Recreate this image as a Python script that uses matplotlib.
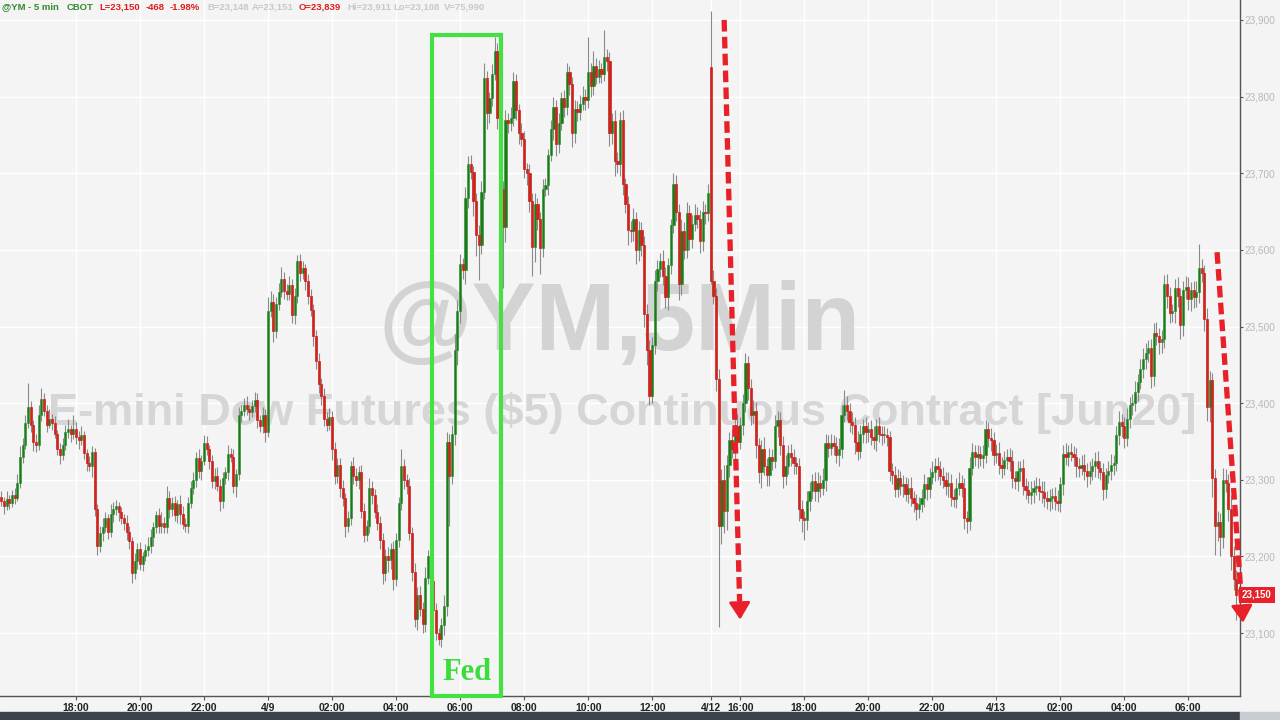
import numpy as np
import matplotlib.pyplot as plt
import matplotlib.transforms as mtransforms
from matplotlib.patches import Rectangle

# @YM 5-min closes, 24 bars (2 hours) per row
closes = [
    23272, 23266, 23275, 23270, 23280, 23276, 23296, 23330, 23345, 23374, 23395, 23372,
    23350, 23345, 23385, 23405, 23390, 23372, 23380, 23374, 23360, 23340, 23333, 23345,
    23362, 23366, 23360, 23366, 23356, 23352, 23358, 23335, 23322, 23318, 23336, 23262,
    23214, 23230, 23238, 23250, 23232, 23255, 23262, 23266, 23258, 23250, 23244, 23232,
    23220, 23178, 23194, 23210, 23190, 23200, 23208, 23214, 23226, 23238, 23254, 23240,
    23244, 23238, 23276, 23262, 23270, 23254, 23268, 23256, 23242, 23240, 23270, 23290,
    23300, 23328, 23312, 23325, 23348, 23340, 23324, 23298, 23305, 23292, 23272, 23302,
    23310, 23334, 23330, 23292, 23308, 23385, 23390, 23398, 23392, 23388, 23396, 23404,
    23378, 23370, 23385, 23362, 23520, 23532, 23494, 23530, 23545, 23562, 23546, 23543,
    23554, 23515, 23540, 23586, 23570, 23576, 23560, 23540, 23522, 23488, 23455, 23425,
    23410, 23380, 23372, 23382, 23340, 23305, 23320, 23290, 23276, 23240, 23250, 23318,
    23305, 23300, 23310, 23260, 23228, 23240, 23290, 23280, 23258, 23244, 23222, 23178,
    23200, 23196, 23210, 23170, 23222, 23270, 23318, 23300, 23292, 23230, 23180, 23118,
    23150, 23132, 23112, 23172, 23200, 23168, 23130, 23100, 23092, 23110, 23136, 23350,
    23305, 23360, 23470, 23520, 23582, 23574, 23668, 23712, 23702, 23664, 23620, 23606,
    23676, 23824, 23778, 23798, 23830, 23860, 23772, 23680, 23630, 23770, 23765, 23772,
    23820, 23782, 23752, 23745, 23706, 23700, 23664, 23604, 23660, 23640, 23603, 23680,
    23684, 23724, 23758, 23786, 23738, 23766, 23798, 23786, 23832, 23816, 23752, 23784,
    23780, 23790, 23800, 23795, 23832, 23814, 23840, 23826, 23836, 23830, 23852, 23846,
    23752, 23768, 23716, 23712, 23770, 23686, 23660, 23626, 23624, 23640, 23600, 23626,
    23606, 23516, 23470, 23410, 23476, 23560, 23575, 23586, 23566, 23538, 23580, 23632,
    23686, 23650, 23555, 23624, 23600, 23648, 23614, 23634, 23646, 23640, 23612, 23650,
    23648, 23674, 23560, 23540, 23432, 23240, 23300, 23260, 23320, 23352, 23340, 23370,
    23350, 23372, 23400, 23452, 23420, 23385, 23390, 23345, 23310, 23340, 23318, 23306,
    23330, 23325, 23370, 23378, 23345, 23305, 23318, 23335, 23330, 23322, 23318, 23262,
    23250, 23248, 23272, 23285, 23298, 23285, 23296, 23290, 23300, 23348, 23342, 23348,
    23344, 23332, 23340, 23385, 23398, 23390, 23376, 23372, 23350, 23338, 23360, 23370,
    23362, 23366, 23356, 23352, 23370, 23360, 23358, 23358, 23356, 23312, 23306, 23288,
    23302, 23292, 23294, 23282, 23290, 23276, 23270, 23262, 23268, 23276, 23294, 23288,
    23304, 23310, 23318, 23314, 23305, 23300, 23292, 23296, 23278, 23275, 23290, 23296,
    23290, 23250, 23246, 23316, 23336, 23330, 23334, 23328, 23332, 23366, 23355, 23352,
    23332, 23335, 23320, 23316, 23326, 23330, 23325, 23302, 23298, 23312, 23315, 23292,
    23287, 23280, 23284, 23290, 23292, 23286, 23284, 23276, 23272, 23276, 23279, 23273,
    23270, 23294, 23334, 23330, 23336, 23334, 23330, 23318, 23316, 23320, 23312, 23305,
    23312, 23318, 23324, 23315, 23310, 23288, 23306, 23312, 23320, 23322, 23358, 23376,
    23370, 23354, 23380, 23398, 23400, 23415, 23428, 23445, 23458, 23466, 23472, 23436,
    23492, 23488, 23480, 23484, 23555, 23540, 23518, 23520, 23550, 23540, 23502, 23548,
    23552, 23536, 23548, 23538, 23545, 23576, 23570, 23510, 23395, 23430, 23302, 23240,
    23245, 23225, 23300, 23296, 23262, 23200, 23170, 23150,
]

# wick length above / below the body, in index points
up_wick = [
    8, 6, 10, 5, 7, 9, 12, 14, 9, 10, 31, 8, 6, 10, 12, 15, 8, 7, 12, 6, 9, 5, 8, 10,
    9, 14, 6, 18, 10, 8, 12, 6, 5, 9, 8, 6, 7, 10, 12, 8, 6, 14, 9, 8, 5, 7, 6, 10,
    8, 6, 10, 7, 9, 6, 8, 12, 10, 7, 6, 9, 14, 8, 16, 10, 8, 9, 6, 12, 10, 8, 7, 9,
    10, 8, 12, 7, 10, 9, 6, 8, 10, 12, 9, 8, 7, 12, 8, 10, 6, 10, 8, 9, 12, 6, 8, 11,
    9, 6, 10, 8, 18, 14, 10, 8, 12, 16, 9, 10, 12, 8, 10, 7, 8, 10, 6, 8, 9, 7, 8, 10,
    8, 10, 9, 12, 8, 10, 9, 8, 10, 7, 9, 6, 12, 10, 8, 9, 10, 8, 12, 9, 8, 10, 9, 8,
    10, 12, 8, 10, 9, 8, 22, 9, 8, 10, 9, 12, 10, 12, 8, 14, 9, 10, 8, 9, 7, 10, 14, 12,
    10, 12, 20, 15, 12, 8, 14, 10, 12, 8, 10, 12, 14, 20, 10, 8, 12, 18, 10, 8, 10, 12, 8, 14,
    12, 10, 8, 14, 10, 8, 12, 10, 14, 8, 10, 12, 10, 8, 12, 14, 10, 12, 8, 10, 12, 8, 10, 12,
    10, 12, 14, 10, 46, 12, 20, 10, 12, 8, 35, 10, 12, 10, 14, 12, 10, 12, 8, 10, 12, 14, 10, 12,
    10, 12, 14, 12, 10, 14, 12, 10, 14, 12, 10, 8, 14, 12, 10, 16, 12, 14, 10, 12, 14, 10, 12, 14,
    10, 12, 72, 14, 10, 12, 14, 20, 12, 10, 14, 12, 16, 10, 12, 14, 10, 12, 14, 12, 10, 12, 16, 10,
    12, 10, 14, 12, 10, 12, 14, 10, 12, 10, 8, 10, 12, 10, 14, 12, 10, 12, 14, 10, 16, 12, 10, 12,
    10, 12, 14, 12, 19, 12, 10, 12, 10, 14, 12, 10, 12, 10, 12, 14, 10, 12, 10, 12, 10, 8, 10, 12,
    12, 10, 12, 10, 12, 14, 10, 12, 10, 12, 14, 10, 12, 14, 10, 12, 10, 12, 10, 14, 12, 10, 12, 14,
    10, 12, 10, 14, 12, 10, 12, 10, 14, 12, 10, 12, 10, 12, 14, 10, 12, 10, 12, 14, 10, 12, 10, 12,
    10, 12, 14, 10, 12, 10, 12, 14, 10, 12, 10, 12, 14, 10, 12, 14, 10, 12, 10, 12, 10, 12, 14, 10,
    12, 10, 12, 14, 10, 12, 10, 12, 14, 10, 12, 14, 10, 12, 14, 10, 12, 14, 10, 12, 14, 12, 10, 12,
    12, 14, 10, 12, 12, 14, 12, 10, 12, 14, 10, 12, 14, 12, 10, 12, 14, 32, 12, 10, 14, 12, 10, 12,
    14, 12, 16, 14, 12, 18, 14, 12,
]
down_wick = [
    6, 10, 5, 8, 6, 7, 4, 6, 8, 5, 7, 10, 12, 9, 6, 8, 7, 10, 5, 9, 6, 8, 12, 7,
    6, 8, 10, 7, 9, 12, 6, 8, 10, 6, 14, 9, 12, 8, 10, 6, 9, 7, 10, 8, 12, 7, 9, 10,
    10, 12, 8, 10, 7, 9, 6, 8, 10, 12, 8, 9, 10, 7, 8, 12, 9, 8, 10, 14, 6, 8, 10, 7,
    8, 9, 10, 12, 6, 8, 10, 8, 10, 6, 12, 9, 8, 10, 7, 9, 14, 8, 9, 7, 8, 10, 6, 8,
    10, 8, 9, 12, 6, 8, 14, 9, 8, 7, 10, 9, 8, 10, 12, 9, 10, 8, 12, 10, 8, 14, 10, 12,
    12, 10, 8, 7, 14, 10, 9, 12, 10, 14, 8, 9, 10, 8, 12, 10, 9, 8, 10, 12, 8, 10, 12, 14,
    10, 16, 12, 14, 8, 10, 9, 12, 10, 9, 12, 10, 14, 10, 12, 10, 8, 12, 10, 9, 8, 10, 12, 14,
    65, 10, 14, 20, 16, 12, 18, 14, 10, 20, 28, 45, 12, 10, 20, 12, 10, 8, 14, 30, 80, 20, 12, 10,
    10, 12, 14, 10, 12, 16, 14, 38, 20, 14, 34, 12, 10, 12, 8, 14, 16, 12, 10, 12, 10, 14, 18, 12,
    12, 10, 8, 12, 10, 14, 12, 10, 8, 12, 10, 12, 16, 14, 20, 12, 16, 14, 12, 20, 14, 12, 18, 14,
    14, 16, 20, 12, 10, 12, 14, 10, 12, 14, 16, 12, 10, 12, 20, 14, 12, 10, 14, 12, 10, 12, 16, 14,
    14, 10, 5, 10, 16, 132, 24, 30, 26, 16, 12, 14, 12, 10, 14, 12, 16, 14, 12, 16, 14, 20, 12, 14,
    14, 12, 10, 14, 12, 16, 12, 10, 12, 14, 10, 16, 18, 26, 14, 12, 10, 12, 14, 12, 10, 14, 12, 10,
    12, 10, 14, 12, 10, 12, 14, 12, 16, 12, 10, 12, 14, 12, 10, 12, 14, 10, 12, 10, 12, 14, 12, 10,
    10, 12, 14, 10, 12, 10, 12, 14, 12, 10, 12, 14, 12, 10, 12, 14, 12, 10, 12, 14, 12, 10, 12, 10,
    12, 14, 16, 12, 10, 12, 14, 10, 12, 10, 12, 14, 12, 10, 12, 14, 10, 12, 14, 12, 10, 12, 14, 12,
    12, 10, 12, 14, 10, 12, 14, 12, 10, 12, 14, 12, 10, 12, 14, 10, 12, 10, 12, 14, 12, 10, 12, 14,
    10, 12, 14, 12, 10, 14, 12, 10, 12, 14, 10, 12, 14, 12, 10, 12, 14, 10, 12, 10, 12, 14, 12, 16,
    14, 12, 16, 14, 12, 16, 14, 12, 16, 14, 18, 14, 12, 14, 16, 14, 12, 14, 12, 16, 18, 20, 24, 38,
    20, 24, 14, 12, 16, 18, 14, 33,
]
first_open = 23278
reopen_bar = 266        # Sunday re-open (4/12)
reopen_price = 23839

tick_bars = [28, 52, 76, 100, 124, 148, 172, 196, 220, 244, 266, 277,
             301, 325, 349, 373, 397, 421, 445]
tick_labels = ['18:00', '20:00', '22:00', '4/9', '02:00', '04:00', '06:00',
               '08:00', '10:00', '12:00', '4/12', '16:00', '18:00', '20:00',
               '22:00', '4/13', '02:00', '04:00', '06:00']
price_ticks = [23100, 23200, 23300, 23400, 23500, 23600, 23700, 23800, 23900]

fed_window = (161.5, 187.5)
last_price = 23150

c = np.array(closes, dtype=float)
o = np.r_[first_open, c[:-1]]
o[reopen_bar] = reopen_price
hi = np.maximum(o, c) + np.array(up_wick)
lo = np.minimum(o, c) - np.array(down_wick)
x = np.arange(len(c))
up = c >= o
body_bot = np.minimum(o, c)
body_h = np.maximum(np.abs(c - o), 1.5)

bg = '#f4f4f4'
red = '#e8202a'
fig = plt.figure(figsize=(12.8, 7.2), dpi=100, facecolor=bg)
ax = fig.add_axes([0, 24 / 720, 1240 / 1280, 696 / 720], facecolor=bg)

ax.set_xlim(-0.5, 464.4)
ax.set_ylim(23018, 23926)

# watermark
ax.text(0.5, 0.533, '@YM,5Min', transform=ax.transAxes, ha='center', va='center',
        fontsize=69, fontweight='bold', family='Liberation Sans', color='#d3d3d3', zorder=1)
ax.text(0.502, 0.407, 'E-mini Dow Futures ($5) Continuous Contract [Jun20]',
        transform=ax.transAxes, ha='center', va='center', fontsize=32.5,
        fontweight='bold', family='Liberation Sans', color='#d6d6d6', zorder=1)

# candles
ax.vlines(x, lo, hi, color='#8a8a8a', lw=0.8, zorder=3)
ax.bar(x[up], body_h[up], bottom=body_bot[up], width=0.8, color='#1f7a1f',
       edgecolor='#229122', lw=0.4, zorder=4)
ax.bar(x[~up], body_h[~up], bottom=body_bot[~up], width=0.8, color='#b8301c',
       edgecolor='#e3161c', lw=0.5, zorder=4)

# axes styling
ax.set_xticks(tick_bars)
ax.set_xticklabels(tick_labels, fontsize=7.5, fontweight='bold', color='#222222',
                   family='Liberation Sans')
ax.yaxis.tick_right()
ax.set_yticks(price_ticks)
ax.set_yticklabels([f'{p:,}' for p in price_ticks], fontsize=7.2, color='#b8b8b8',
                   family='Liberation Sans')
ax.tick_params(axis='x', length=3, color='#555555', pad=2)
ax.tick_params(axis='y', length=2, color='#555555', pad=1.5)
ax.grid(True, color='white', lw=1.0, zorder=0)
ax.set_axisbelow(True)
for s in ['left', 'top']:
    ax.spines[s].set_visible(False)
for s in ['right', 'bottom']:
    ax.spines[s].set_color('#555555')
    ax.spines[s].set_linewidth(1)

# Fed box
trans = mtransforms.blended_transform_factory(ax.transData, ax.transAxes)
ax.add_patch(Rectangle((fed_window[0], 0.0), fed_window[1] - fed_window[0], 0.95,
                       transform=trans, fill=False, ec='#44e044', lw=3,
                       clip_on=False, zorder=6))
ax.text(sum(fed_window) / 2, 0.034, 'Fed', transform=trans, ha='center', va='center',
        fontsize=22, fontweight='bold', family='Liberation Serif', color='#3ddc3d', zorder=6)

# red dashed arrows
for (x0, y0), (x1, y1) in [((271.0, 23900), (277.0, 23114)),
                           ((455.8, 23597), (465.6, 23110))]:
    t = 0.965
    xm, ym = x0 + t * (x1 - x0), y0 + t * (y1 - y0)
    ax.plot([x0, xm], [y0, ym], color=red, lw=3.8, ls=(0, (2.2, 1.0)),
            solid_capstyle='butt', clip_on=False, zorder=7)
    t2 = 0.95
    ax.annotate('', xy=(x1, y1), xytext=(x0 + t2 * (x1 - x0), y0 + t2 * (y1 - y0)),
                arrowprops=dict(arrowstyle='-|>,head_width=0.5,head_length=0.8',
                                color=red, lw=2, mutation_scale=13),
                annotation_clip=False, zorder=7)

# last price tag
ytr = mtransforms.blended_transform_factory(ax.transAxes, ax.transData)
ax.text(1.0015, last_price, f'{last_price:,}', transform=ytr, ha='left', va='center',
        fontsize=7, fontweight='bold', color='white', zorder=8, family='Liberation Sans',
        bbox=dict(boxstyle='square,pad=0.3', fc=red, ec='none'))

# header line
header = [('@YM - 5 min', 2, '#2e8b2e'), ('CBOT', 67, '#2e8b2e'),
          ('L=23,150', 99, '#e01b1b'), ('-468', 146, '#e01b1b'),
          ('-1.98%', 170, '#e01b1b'), ('B=23,148', 207, '#c8c8c8'),
          ('A=23,151', 252, '#c8c8c8'), ('O=23,839', 299, '#e01b1b'),
          ('Hi=23,911', 347, '#c8c8c8'), ('Lo=23,108', 393, '#c8c8c8'),
          ('V=75,990', 444, '#c8c8c8')]
for txt, px, col in header:
    fig.text(px / 1280, 1 - 7 / 720, txt, ha='left', va='center', fontsize=6.8,
             fontweight='bold', color=col, family='Liberation Sans')

# bottom status bar
fig.patches.append(Rectangle((0, 0), 1240 / 1280, 8 / 720, transform=fig.transFigure,
                             color='#3c424a', zorder=0))
fig.patches.append(Rectangle((1240 / 1280, 0), 40 / 1280, 8 / 720,
                             transform=fig.transFigure, color='#c9cdd2', zorder=0))

fig.savefig('out.png', dpi=100, facecolor=bg)
